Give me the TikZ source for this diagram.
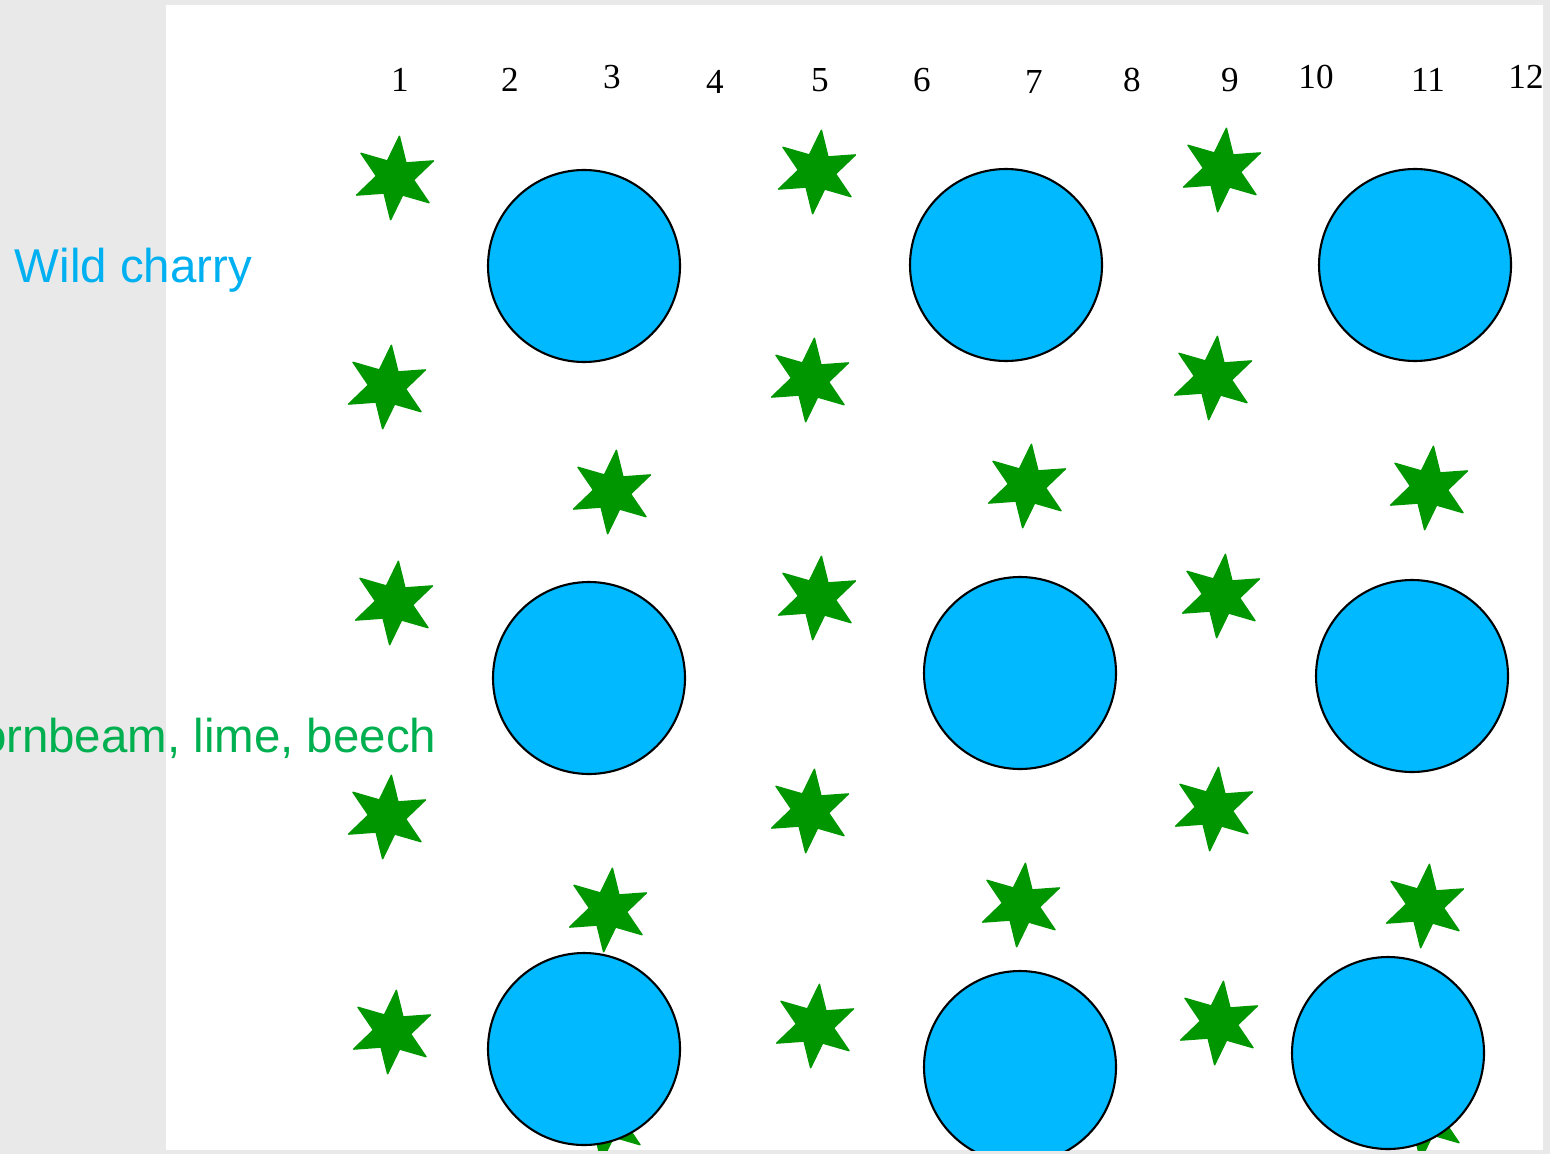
\documentclass[tikz,border=0pt]{standalone}
\usepackage{fontspec}
\setmainfont{Liberation Serif}
\newfontfamily\labelfont{Liberation Sans}
\usetikzlibrary{shapes.geometric}
\definecolor{pagegrey}{RGB}{233,233,233}
\definecolor{cherryblue}{RGB}{0,185,255}
\definecolor{treegreen}{RGB}{0,150,0}
\definecolor{wildtext}{RGB}{0,176,240}
\definecolor{hedgetext}{RGB}{0,176,80}

\begin{document}
\begin{tikzpicture}[x=0.1mm,y=-0.1mm,
    tree/.style={star, star points=6, star point ratio=2.25, shape border rotate=-6,
      minimum size=8.4mm, inner sep=0pt, fill=treegreen, draw=treegreen,
      line width=0.4pt, line join=round},
    cherry/.style={circle, draw=black, line width=0.6pt, fill=cherryblue,
      minimum size=19.2mm, inner sep=0pt},
    colnum/.style={anchor=base, inner sep=0pt, font=\fontsize{10}{12}\selectfont},
    legend/.style={inner sep=0pt, font=\labelfont\fontsize{13.5}{16}\selectfont}]
      \useasboundingbox (0,0) rectangle (1550,1154);
      \fill[pagegrey] (0,0) rectangle (1550,1154);
      \fill[white] (166,5) rectangle (1543,1150);
      % column numbers
      \foreach \n/\x/\y in {1/400/92, 2/510/92, 3/612/89, 4/715/94, 5/820/92, 6/922/92,
          7/1034/94, 8/1132/92, 9/1230/92, 10/1316/89, 11/1428/92, 12/1526/89}
        \node[colnum] (num\n) at (\x,\y) {\n};
      \begin{scope}
        \clip (166,5) rectangle (1543,1150);
        % hornbeam, lime, beech
        \foreach \x/\y [count=\i] in {395/178, 817/172, 1222/170,
            387/387, 810/380, 1213/378,
            612/492, 1027/486, 1429/488,
            394/603, 817/598, 1221/596,
            387/817, 810/811, 1214/809,
            608/910, 1021/905, 1425/906,
            392/1032, 815/1026, 1219/1023,
            606/1120, 1425/1118}
          \node[tree] (t\i) at (\x,\y) {};
        % wild cherry
        \foreach \x/\y [count=\i] in {584/266, 1006/265, 1415/265,
            589/678, 1020/673, 1412/676,
            584/1049, 1020/1067, 1388/1053}
          \node[cherry] (c\i) at (\x,\y) {};
      \end{scope}
      \node[legend, text=wildtext, anchor=base west] (wild) at (14,283) {Wild charry};
      \node[legend, text=hedgetext, anchor=base east] (hedge) at (437,752) {Hornbeam, lime, beech};
  \end{tikzpicture}
\end{document}
